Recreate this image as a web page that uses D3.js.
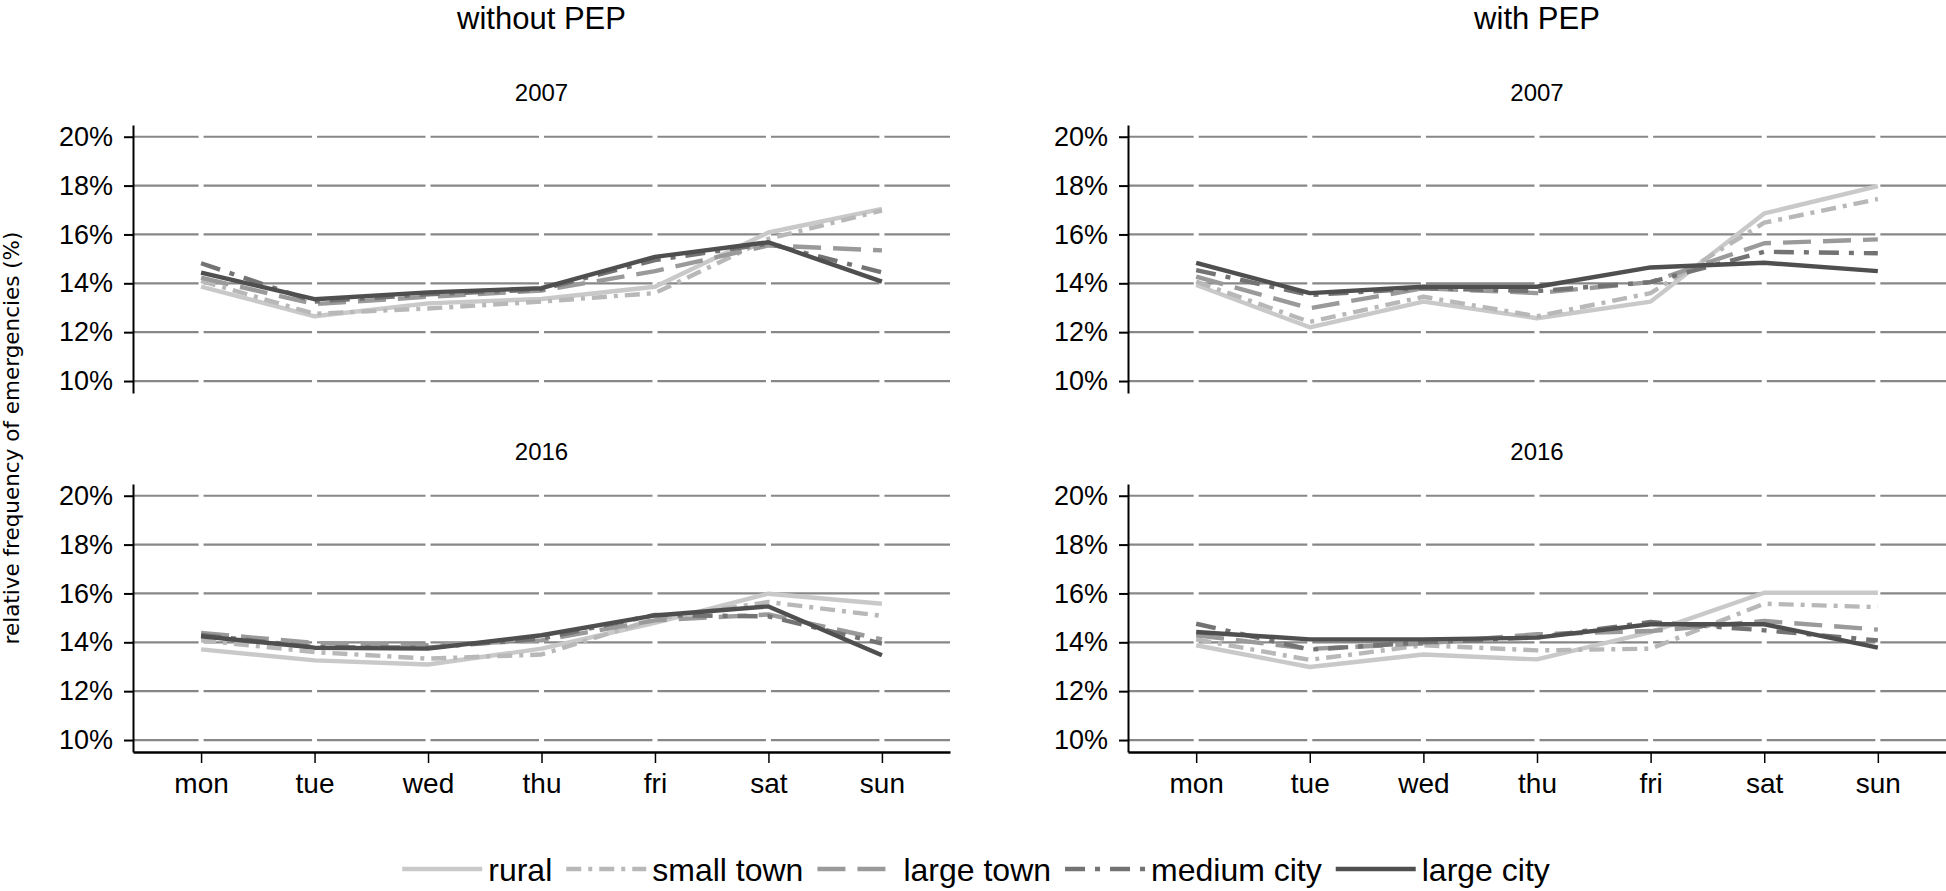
<!DOCTYPE html>
<html>
<head>
<meta charset="utf-8">
<script src="https://cdn.jsdelivr.net/npm/d3@7"></script>
<style>
  html, body { margin: 0; padding: 0; background: #ffffff; }
  svg { display: block; }
  text { font-family: "Liberation Sans", Arial, Helvetica, sans-serif; fill: #000; }
</style>
</head>
<body>
<svg id="chart" width="1946" height="891"></svg>
<script>
// ---------------- data ----------------
const days = ["mon", "tue", "wed", "thu", "fri", "sat", "sun"];
const seriesNames = ["rural", "small town", "large town", "medium city", "large city"];
const yTicks = [10, 12, 14, 16, 18, 20];
const columnTitles = ["without PEP", "with PEP"];
const rowTitles = ["2007", "2016"];
const yAxisTitle = "relative frequency of emergencies (%)";

// without PEP, 2007
const withoutPEP2007_rural      = [13.86, 12.65, 13.18, 13.36, 13.86, 16.08, 17.05];
const withoutPEP2007_smallTown  = [14.10, 12.75, 12.97, 13.25, 13.60, 15.82, 16.98];
const withoutPEP2007_largeTown  = [14.23, 13.15, 13.45, 13.70, 14.50, 15.55, 15.35];
const withoutPEP2007_mediumCity = [14.82, 13.25, 13.55, 13.75, 14.95, 15.62, 14.45];
const withoutPEP2007_largeCity  = [14.44, 13.35, 13.63, 13.80, 15.08, 15.68, 14.07];

// with PEP, 2007
const withPEP2007_rural      = [13.93, 12.20, 13.25, 12.57, 13.25, 16.86, 17.98];
const withPEP2007_smallTown  = [14.07, 12.42, 13.45, 12.65, 13.60, 16.48, 17.45];
const withPEP2007_largeTown  = [14.27, 12.98, 13.80, 13.60, 14.05, 15.64, 15.80];
const withPEP2007_mediumCity = [14.54, 13.52, 13.80, 13.68, 14.05, 15.29, 15.23];
const withPEP2007_largeCity  = [14.84, 13.60, 13.86, 13.86, 14.65, 14.84, 14.50];

// without PEP, 2016
const withoutPEP2016_rural      = [13.71, 13.26, 13.09, 13.74, 14.80, 15.99, 15.58];
const withoutPEP2016_smallTown  = [14.08, 13.60, 13.33, 13.50, 14.95, 15.65, 15.08];
const withoutPEP2016_largeTown  = [14.38, 13.97, 13.88, 14.08, 14.90, 15.14, 14.12];
const withoutPEP2016_mediumCity = [14.30, 13.80, 13.78, 14.15, 15.12, 15.06, 13.95];
const withoutPEP2016_largeCity  = [14.25, 13.78, 13.74, 14.29, 15.10, 15.47, 13.47];

// with PEP, 2016
const withPEP2016_rural      = [13.88, 12.99, 13.50, 13.30, 14.42, 16.03, 16.03];
const withPEP2016_smallTown  = [14.12, 13.28, 13.88, 13.67, 13.74, 15.58, 15.44];
const withPEP2016_largeTown  = [14.29, 13.73, 13.95, 14.33, 14.46, 14.87, 14.52];
const withPEP2016_mediumCity = [14.76, 13.70, 14.00, 14.20, 14.83, 14.49, 14.08];
const withPEP2016_largeCity  = [14.42, 14.12, 14.12, 14.19, 14.74, 14.74, 13.78];

// ---------------- styles ----------------
const seriesStyle = {
  "rural":       { color: "#c9c9c9", dash: null },
  "small town":  { color: "#b8b8b8", dash: "15,7,4,7" },
  "large town":  { color: "#9a9a9a", dash: "28,12" },
  "medium city": { color: "#737373", dash: "20,10,5,10" },
  "large city":  { color: "#4f4f4f", dash: null }
};

const panels = [
  { col: 0, row: 0, series: [withoutPEP2007_rural, withoutPEP2007_smallTown, withoutPEP2007_largeTown, withoutPEP2007_mediumCity, withoutPEP2007_largeCity] },
  { col: 1, row: 0, series: [withPEP2007_rural, withPEP2007_smallTown, withPEP2007_largeTown, withPEP2007_mediumCity, withPEP2007_largeCity] },
  { col: 0, row: 1, series: [withoutPEP2016_rural, withoutPEP2016_smallTown, withoutPEP2016_largeTown, withoutPEP2016_mediumCity, withoutPEP2016_largeCity] },
  { col: 1, row: 1, series: [withPEP2016_rural, withPEP2016_smallTown, withPEP2016_largeTown, withPEP2016_mediumCity, withPEP2016_largeCity] }
];

// ---------------- layout ----------------
const colX = [[133, 950], [1128, 1946]];
const rowY = [[125, 393], [484, 752]];
const svg = d3.select("#chart");

// column titles
columnTitles.forEach((t, i) => {
  svg.append("text")
    .attr("x", (colX[i][0] + colX[i][1]) / 2)
    .attr("y", 29)
    .attr("text-anchor", "middle")
    .style("font-size", "31px")
    .text(t);
});

// y-axis title
svg.append("text")
  .attr("transform", "translate(19,438) rotate(-90)")
  .attr("text-anchor", "middle")
  .style("font-family", "'DejaVu Sans', sans-serif")
  .style("font-size", "21.5px")
  .text(yAxisTitle);

panels.forEach(p => {
  const [x0, x1] = colX[p.col];
  const [top, bottom] = rowY[p.row];
  const x = d3.scalePoint().domain(days).range([x0, x1]).padding(0.6);
  const y = d3.scaleLinear().domain([9.51, 20.48]).range([bottom, top]);
  const g = svg.append("g");

  // panel title
  g.append("text")
    .attr("x", (x0 + x1) / 2)
    .attr("y", top - 24)
    .attr("text-anchor", "middle")
    .style("font-size", "24px")
    .text(rowTitles[p.row]);

  // gridlines
  g.append("g").selectAll("line").data(yTicks).join("line")
    .attr("x1", x0).attr("x2", x1)
    .attr("y1", d => y(d)).attr("y2", d => y(d))
    .attr("stroke", "#878787").attr("stroke-width", 2.2);

  // small white gaps in gridlines at category positions
  const gaps = [];
  yTicks.forEach(t => days.forEach(d => gaps.push([d, t])));
  g.append("g").selectAll("rect").data(gaps).join("rect")
    .attr("x", d => x(d[0]) - 2.5).attr("width", 5)
    .attr("y", d => y(d[1]) - 3).attr("height", 6)
    .attr("fill", "#ffffff");

  // lines
  const line = d3.line().x((v, i) => x(days[i])).y(v => y(v));
  p.series.forEach((vals, si) => {
    const st = seriesStyle[seriesNames[si]];
    g.append("path")
      .datum(vals)
      .attr("d", line)
      .attr("fill", "none")
      .attr("stroke", st.color)
      .attr("stroke-width", 4.4)
      .attr("stroke-linejoin", "round")
      .attr("stroke-dasharray", st.dash);
  });

  // y axis
  const ya = g.append("g")
    .attr("transform", `translate(${x0},0)`)
    .call(d3.axisLeft(y).tickValues(yTicks).tickFormat(d => d + "%").tickSize(9).tickSizeOuter(0).tickPadding(11));
  ya.select(".domain").attr("stroke", "#000").attr("stroke-width", 2);
  ya.selectAll(".tick line").attr("stroke", "#000").attr("stroke-width", 2);
  ya.selectAll(".tick text")
    .style("font-family", "'Liberation Sans', Arial, sans-serif")
    .style("font-size", "27px").attr("fill", "#000");

  // x axis only on bottom row
  if (p.row === 1) {
    const xa = g.append("g")
      .attr("transform", `translate(0,${bottom})`)
      .call(d3.axisBottom(x).tickSize(11).tickSizeOuter(0).tickPadding(10));
    xa.select(".domain").attr("stroke", "#000").attr("stroke-width", 2.5);
    xa.selectAll(".tick line").attr("stroke", "#000").attr("stroke-width", 1.5);
    xa.selectAll(".tick text")
      .style("font-family", "'Liberation Sans', Arial, sans-serif")
      .style("font-size", "28px").attr("fill", "#000");
  }
});

// ---------------- legend ----------------
const legendG = svg.append("g");
const lineLen = 80, gapLT = 6, gapItem = 14, legY = 869, legBase = 881;
let cx = 0;
seriesNames.forEach(name => {
  const st = seriesStyle[name];
  const it = legendG.append("g");
  it.append("line")
    .attr("x1", cx).attr("x2", cx + lineLen)
    .attr("y1", legY).attr("y2", legY)
    .attr("stroke", st.color).attr("stroke-width", 4.4)
    .attr("stroke-dasharray", st.dash);
  const t = it.append("text")
    .attr("x", cx + lineLen + gapLT)
    .attr("y", legBase)
    .style("font-size", "32px")
    .text(name);
  cx += lineLen + gapLT + t.node().getComputedTextLength() + gapItem;
});
const totalW = cx - gapItem;
legendG.attr("transform", `translate(${976 - totalW / 2},0)`);
</script>
</body>
</html>
